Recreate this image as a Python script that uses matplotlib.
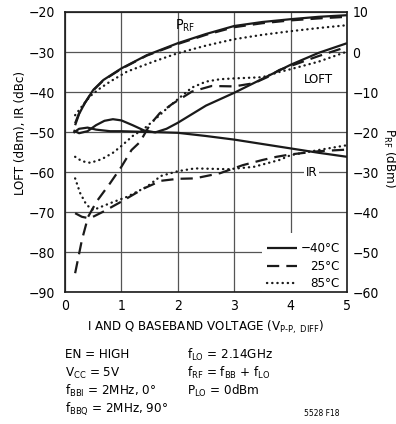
import matplotlib
matplotlib.use('Agg')
import matplotlib.pyplot as plt
from matplotlib import font_manager
from matplotlib.lines import Line2D
from matplotlib.patches import Rectangle

# --- font: condensed sans, like the datasheet ---
names = {f.name for f in font_manager.fontManager.ttflist}
if 'Liberation Sans Narrow' in names:
    FONT = 'Liberation Sans Narrow'
else:
    FONT = 'DejaVu Sans'
    plt.rcParams['font.stretch'] = 'condensed'
plt.rcParams['font.family'] = [FONT, 'DejaVu Sans']
plt.rcParams['mathtext.fontset'] = 'custom'
plt.rcParams['mathtext.rm'] = FONT + ':stretch=condensed' if FONT == 'DejaVu Sans' else FONT
plt.rcParams['mathtext.default'] = 'rm'

# --- data ---
# P_RF (right axis, dBm)
prf_m40_x = [0.18, 0.25, 0.35, 0.5, 0.68, 1.0, 1.45, 2.0, 2.5, 3.0, 3.5, 4.0, 4.5, 5.0]
prf_m40_y = [-18.3, -15.5, -12.8, -9.5, -7.0, -4.1, -0.8, 2.2, 4.5, 6.5, 7.5, 8.2, 8.8, 9.2]
prf_25_x = [0.18, 0.25, 0.35, 0.5, 0.68, 1.0, 1.45, 2.0, 2.5, 3.0, 3.5, 4.0, 4.5, 5.0]
prf_25_y = [-17.8, -15.3, -12.8, -9.6, -7.1, -4.2, -0.9, 2.0, 4.3, 6.2, 7.2, 7.9, 8.4, 8.8]
prf_85_x = [0.18, 0.3, 0.45, 0.6, 0.8, 1.1, 1.57, 2.0, 2.5, 3.0, 3.5, 4.0, 4.5, 5.0]
prf_85_y = [-15.8, -13.6, -11.0, -9.3, -7.4, -4.9, -2.4, -0.3, 1.6, 3.2, 4.3, 5.2, 6.0, 6.7]

# LOFT (left axis, dBm)
loft_m40_x = [0.15, 0.25, 0.4, 0.55, 0.7, 0.85, 1.0, 1.2, 1.4, 1.6, 1.8, 2.0, 2.5, 3.0, 3.5, 4.0, 4.5, 5.0]
loft_m40_y = [-49.6, -50.3, -49.8, -48.3, -47.2, -46.8, -47.1, -48.3, -49.6, -50.1, -49.2, -47.7,
              -43.4, -40.2, -36.7, -33.2, -30.2, -27.8]
loft_25_x = [0.18, 0.3, 0.41, 0.56, 0.8, 1.0, 1.18, 1.33, 1.5, 1.68, 1.9, 2.25, 2.6, 3.0, 3.35, 3.6,
             3.8, 4.0, 4.5, 5.0]
loft_25_y = [-85.3, -77.0, -71.2, -67.4, -62.8, -58.7, -54.5, -52.5, -48.3, -45.3, -43.0, -39.9,
             -38.5, -38.6, -37.8, -36.2, -34.5, -33.5, -31.0, -28.7]
loft_85_x = [0.18, 0.3, 0.45, 0.65, 0.85, 1.0, 1.2, 1.4, 1.6, 1.8, 2.0, 2.25, 2.5, 2.75, 3.0, 3.5,
             3.8, 4.0, 4.5, 5.0]
loft_85_y = [-56.2, -57.3, -57.7, -56.8, -55.2, -53.5, -51.0, -49.2, -46.8, -44.2, -41.8, -38.9,
             -37.4, -36.8, -36.6, -36.3, -35.0, -34.3, -32.4, -29.9]

# IR (left axis, dBc)
ir_m40_x = [0.15, 0.25, 0.4, 0.55, 0.8, 1.0, 1.5, 2.0, 2.5, 3.0, 3.5, 4.0, 4.5, 5.0]
ir_m40_y = [-50.2, -49.2, -48.9, -49.4, -49.8, -49.8, -50.0, -50.2, -51.0, -51.9, -53.0, -54.1,
            -55.2, -56.2]
ir_25_x = [0.18, 0.3, 0.44, 0.68, 1.0, 1.4, 1.7, 2.0, 2.3, 2.75, 3.15, 3.5, 3.75, 4.0, 4.5, 5.0]
ir_25_y = [-70.3, -71.2, -71.6, -69.9, -67.4, -64.1, -62.2, -61.7, -61.6, -60.3, -58.3, -57.0,
           -56.2, -55.6, -54.8, -54.4]
ir_85_x = [0.18, 0.27, 0.38, 0.5, 0.8, 1.1, 1.45, 1.7, 2.0, 2.3, 2.9, 3.35, 3.8, 4.0, 4.5, 5.0]
ir_85_y = [-61.6, -65.3, -68.2, -69.5, -67.8, -66.2, -63.7, -61.0, -59.8, -59.1, -59.3, -58.7,
           -57.0, -55.8, -54.5, -53.3]

x_ticks = [0, 1, 2, 3, 4, 5]
left_ticks = [-90, -80, -70, -60, -50, -40, -30, -20]
right_ticks = [-60, -50, -40, -30, -20, -10, 0, 10]
temps = ['\u221240\u00b0C', '25\u00b0C', '85\u00b0C']

# --- styles ---
LW = 1.6
SOLID = dict(color='#1a1a1a', lw=LW, solid_capstyle='butt')
DASH = dict(color='#1a1a1a', lw=LW, linestyle=(0, (5.5, 3.2)), dash_capstyle='butt')
DOT = dict(color='#1a1a1a', lw=1.7, linestyle=(0, (0.1, 2.1)), dash_capstyle='round')
GRID = '#555555'
FS = 9.5

fig = plt.figure(figsize=(3.96, 4.24), dpi=100)
ax = fig.add_axes([0.1641, 0.3113, 0.7121, 0.6604])

ax.set_xlim(0, 5)
ax.set_ylim(-90, -20)
ax.set_xticks(x_ticks)
ax.set_yticks(left_ticks)
ax.set_yticklabels([str(v).replace('-', '\u2212') for v in left_ticks])
ax.tick_params(length=0, labelsize=FS + 0.5)
ax.tick_params(axis='y', pad=7)
ax.tick_params(axis='x', pad=5)
ax.grid(True, color=GRID, lw=0.9)
ax.set_axisbelow(True)
for s in ax.spines.values():
    s.set_linewidth(1.2)
    s.set_color('#1a1a1a')

ax.plot(loft_m40_x, loft_m40_y, **SOLID)
ax.plot(loft_25_x, loft_25_y, **DASH)
ax.plot(loft_85_x, loft_85_y, **DOT)
ax.plot(ir_m40_x, ir_m40_y, **SOLID)
ax.plot(ir_25_x, ir_25_y, **DASH)
ax.plot(ir_85_x, ir_85_y, **DOT)

ax2 = ax.twinx()
ax2.set_ylim(-60, 10)
ax2.set_yticks(right_ticks)
ax2.set_yticklabels([str(v).replace('-', '\u2212') for v in right_ticks])
ax2.tick_params(length=0, labelsize=FS + 0.5, pad=4)
for s in ax2.spines.values():
    s.set_visible(False)
ax2.plot(prf_m40_x, prf_m40_y, **SOLID)
ax2.plot(prf_25_x, prf_25_y, **DASH)
ax2.plot(prf_85_x, prf_85_y, **DOT)

# curve labels
ax.text(2.13, -23.4, r'P$_{\mathrm{RF}}$', fontsize=FS + 0.5, ha='center', va='center')
ax.text(4.49, -36.9, 'LOFT', fontsize=FS, ha='center', va='center')
ax.text(4.37, -60.0, 'IR', fontsize=FS, ha='center', va='center',
        bbox=dict(facecolor='white', edgecolor='none', pad=1.5))

# legend (white box over the grid)
ax.add_patch(Rectangle((0.699, 0.0), 0.30, 0.211, transform=ax.transAxes,
                       facecolor='white', edgecolor='none', zorder=1.5))
rows = [0.157, 0.092, 0.032]
for st, lab, yy in zip([SOLID, DASH, DOT], temps, rows):
    ax.add_line(Line2D([0.716, 0.823], [yy, yy], transform=ax.transAxes, **st))
    ax.text(0.975, yy, lab, transform=ax.transAxes, fontsize=FS, ha='right', va='center')

# axis labels
fig.text(21 / 396, 1 - 133 / 424, 'LOFT (dBm), IR (dBc)', rotation=90,
         fontsize=FS, ha='center', va='center')
fig.text(389 / 396, 1 - 158 / 424, r'P$_{\mathrm{RF}}$ (dBm)', rotation=270,
         fontsize=FS, ha='center', va='center')
fig.text(206 / 396, 1 - 327 / 424,
         r'I AND Q BASEBAND VOLTAGE (V$_{\mathrm{P\text{-}P,\ DIFF}}$)',
         fontsize=FS, ha='center', va='center')

# conditions
left_txt = ['EN = HIGH', r'V$_{\mathrm{CC}}$ = 5V', r'f$_{\mathrm{BBI}}$ = 2MHz, 0°',
            r'f$_{\mathrm{BBQ}}$ = 2MHz, 90°']
right_txt = [r'f$_{\mathrm{LO}}$ = 2.14GHz', r'f$_{\mathrm{RF}}$ = f$_{\mathrm{BB}}$ + f$_{\mathrm{LO}}$',
             r'P$_{\mathrm{LO}}$ = 0dBm']
ys = [355, 373, 391, 409]
for t, y in zip(left_txt, ys):
    fig.text(65 / 396, 1 - y / 424, t, fontsize=FS, ha='left', va='center')
for t, y in zip(right_txt, ys):
    fig.text(187 / 396, 1 - y / 424, t, fontsize=FS, ha='left', va='center')
fig.text(340 / 396, 1 - 413 / 424, '5528 F18', fontsize=6, ha='right', va='center')

fig.savefig('out.png', dpi=100)
